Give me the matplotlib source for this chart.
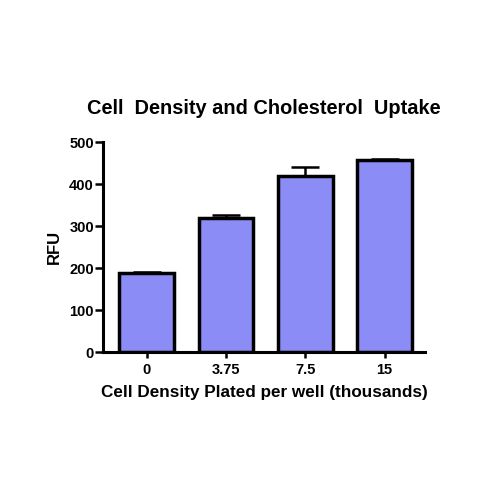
import matplotlib
matplotlib.use("Agg")
import matplotlib.pyplot as plt

categories = ["0", "3.75", "7.5", "15"]
values = [187, 320, 420, 456]
errors = [4, 7, 20, 4]

plt.rcParams['font.family'] = ['Liberation Sans', 'DejaVu Sans']
plt.rcParams['font.weight'] = 'bold'

fig = plt.figure(figsize=(5, 5), dpi=100)
ax = fig.add_axes([0.206, 0.296, 0.644, 0.42])
x = list(range(len(categories)))
ax.bar(x, values, width=0.69, color='#8c8cf7', edgecolor='black', linewidth=2.5, zorder=2)
ax.errorbar(x, values, yerr=[[0]*len(errors), errors], fmt='none', ecolor='black',
            elinewidth=1.8, capsize=10, capthick=1.8, zorder=1)
ax.set_xlim(-0.55, 3.51)
ax.set_ylim(0, 500)
ax.set_yticks([0, 100, 200, 300, 400, 500])
ax.set_xticks(x)
ax.set_xticklabels(categories)
for s in ['top', 'right']:
    ax.spines[s].set_visible(False)
for s in ['left', 'bottom']:
    ax.spines[s].set_linewidth(2.2)
ax.tick_params(axis='y', length=5.5, width=1.8, labelsize=10.5, pad=1)
ax.tick_params(axis='x', length=4, width=1.8, labelsize=10.5, pad=4)
for lab in ax.get_xticklabels() + ax.get_yticklabels():
    lab.set_fontweight('bold')
ax.set_ylabel('RFU', fontsize=12, fontweight='bold', labelpad=5)
ax.set_xlabel('Cell Density Plated per well (thousands)', fontsize=12.3, fontweight='bold', labelpad=6)
ax.set_title('Cell  Density and Cholesterol  Uptake', fontsize=14.4, fontweight='bold', pad=20)
fig.savefig('out.png', dpi=100)
